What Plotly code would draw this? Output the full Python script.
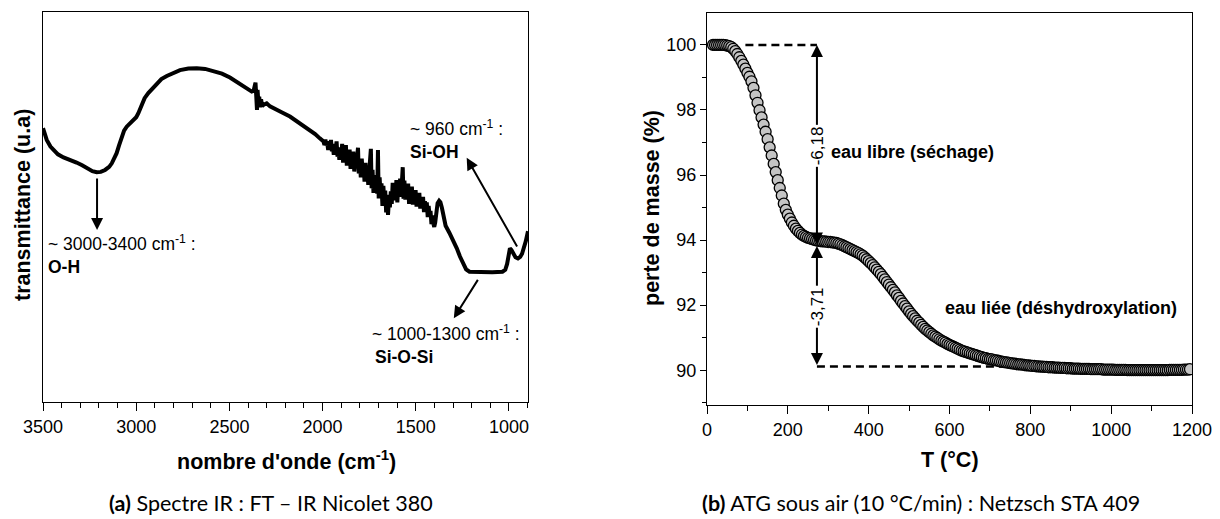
import plotly.graph_objects as go

# ---------------- data : IR spectrum (a) ----------------
wn_ir = [3500, 3480, 3460, 3445, 3420, 3390, 3355, 3320, 3290, 3265, 3235, 3212, 3190, 3167, 3145,
         3131, 3118, 3105, 3092, 3078, 3065, 3051, 3033, 3016, 3000, 2989, 2980, 2970, 2955, 2935,
         2910, 2890, 2865, 2836, 2800, 2765, 2720, 2675, 2630, 2586, 2540, 2497, 2460, 2425, 2400,
         2380, 2370, 2364, 2360, 2356, 2352, 2349, 2345, 2340, 2335, 2330, 2324, 2318, 2300, 2282,
         2264, 2220, 2175, 2121, 2068, 2040, 2015,
         1995, 1990, 1985, 1980, 1975, 1970, 1965, 1960, 1955, 1950, 1945, 1940, 1935, 1930, 1925,
         1920, 1915, 1910, 1905, 1900, 1895, 1890, 1885, 1880, 1875, 1870, 1865, 1860, 1855, 1850,
         1845, 1840, 1835, 1830, 1825, 1820, 1815, 1810, 1806, 1800, 1795, 1790, 1785, 1780, 1775,
         1770, 1765, 1760, 1755, 1750, 1745, 1741, 1737, 1732, 1727, 1722, 1717, 1712, 1707, 1703,
         1699, 1694, 1689, 1684, 1679, 1674, 1669, 1664, 1659, 1654, 1649, 1644, 1639, 1634, 1629,
         1624, 1619, 1614, 1609, 1604, 1599, 1594, 1589, 1584, 1579, 1574, 1570, 1566, 1561, 1556,
         1551, 1546, 1541, 1536, 1531, 1526, 1521, 1516, 1511, 1506, 1501, 1496, 1491, 1486, 1481,
         1476, 1471, 1466, 1461, 1456, 1451, 1446, 1441, 1436, 1431, 1426, 1421, 1416, 1411, 1406,
         1401, 1396, 1390, 1383, 1375, 1368, 1360, 1352, 1340, 1320, 1299, 1280, 1263, 1245, 1230,
         1212, 1150, 1090, 1035, 1020, 1010, 1002, 995, 987, 977, 965, 952, 940, 930, 920, 910, 898]
tr_ir = [70.2, 67.2, 65.5, 64.6, 63.5, 62.7, 62.1, 61.4, 60.7, 59.9, 59.2, 58.9, 59.0, 59.5, 60.3,
         61.2, 62.3, 63.8, 65.8, 68.0, 69.6, 70.6, 71.5, 72.3, 73.0, 74.0, 75.2, 76.6, 77.9, 79.2,
         80.6, 81.7, 82.8, 83.6, 84.5, 85.1, 85.5, 85.6, 85.4, 84.9, 84.2, 83.2, 82.1, 81.0, 80.2,
         79.6, 79.8, 81.2, 81.9, 78.5, 74.9, 80.0, 77.2, 78.3, 75.6, 77.6, 75.8, 76.2, 76.6, 75.8,
         75.3, 74.3, 73.2, 71.5, 69.7, 68.7, 67.6,
         66.8, 65.9, 67.3, 65.8, 66.4, 64.6, 66.9, 65.1, 67.2, 64.3, 65.6, 63.4, 66.2, 64.5, 66.8,
         62.9, 64.8, 62.1, 65.3, 63.0, 66.2, 61.4, 63.8, 62.2, 65.9, 60.6, 63.3, 61.9, 64.7, 59.8,
         62.6, 61.0, 64.2, 59.1, 61.7, 60.2, 63.6, 65.2, 58.6, 61.9, 57.6, 62.4, 59.0, 60.9, 56.5,
         61.3, 57.2, 59.8, 55.7, 60.6, 62.8, 64.9, 54.8, 59.5, 53.6, 58.2, 55.1, 57.9, 53.4, 64.6,
         52.2, 57.6, 53.0, 56.1, 50.3, 55.4, 51.6, 54.2, 48.6, 53.1, 48.0, 52.0, 49.9, 54.0, 50.8,
         56.2, 51.7, 55.0, 52.8, 56.9, 51.2, 55.6, 53.4, 57.3, 52.6, 58.8, 60.2, 52.1, 56.8, 51.9,
         55.1, 52.7, 56.0, 50.8, 54.4, 52.2, 55.2, 50.6, 53.9, 51.8, 54.3, 50.1, 53.2, 51.2, 53.6,
         49.6, 52.4, 50.5, 52.6, 48.7, 51.5, 49.1, 51.2, 47.4, 50.3, 47.8, 49.0, 45.6, 47.8, 45.8,
         44.9, 46.0, 49.0, 51.0, 51.6, 51.2, 49.8, 47.6, 45.2, 43.4, 41.5, 39.4, 37.3, 35.3, 34.0,
         33.4, 33.3, 33.3, 33.4, 33.9, 35.4, 38.0, 39.4, 39.0, 38.0, 37.1, 36.8, 37.2, 38.0, 39.5, 41.2, 43.8]
ir_ticks = [3500, 3000, 2500, 2000, 1500, 1000]

# ---------------- data : ATG (b) ----------------
T_atg = [15, 20, 25, 30, 35, 40, 45, 50, 55, 60, 65, 70, 75, 80, 85, 90, 95, 100, 105, 110,
         115, 120, 125, 130, 135, 140, 145, 150, 155, 160, 165, 170, 175, 180, 185, 190, 195, 200, 205, 210,
         215, 220, 225, 230, 235, 240, 245, 250, 255, 260, 265, 270, 275, 280, 285, 290, 295, 300, 305, 310,
         315, 320, 325, 330, 335, 340, 345, 350, 355, 360, 365, 370, 375, 380, 385, 390, 395, 400, 405, 410,
         415, 420, 425, 430, 435, 440, 445, 450, 455, 460, 465, 470, 475, 480, 485, 490, 495, 500, 505, 510,
         515, 520, 525, 530, 535, 540, 545, 550, 555, 560, 565, 570, 575, 580, 585, 590, 595, 600, 605, 610,
         615, 620, 625, 630, 635, 640, 645, 650, 655, 660, 665, 670, 675, 680, 685, 690, 695, 700, 705, 710,
         715, 720, 725, 730, 735, 740, 745, 750, 755, 760, 765, 770, 775, 780, 785, 790, 795, 800, 805, 810,
         815, 820, 825, 830, 835, 840, 845, 850, 855, 860, 865, 870, 875, 880, 885, 890, 895, 900, 905, 910,
         915, 920, 925, 930, 935, 940, 945, 950, 955, 960, 965, 970, 975, 980, 985, 990, 995, 1000, 1005, 1010,
         1015, 1020, 1025, 1030, 1035, 1040, 1045, 1050, 1055, 1060, 1065, 1070, 1075, 1080, 1085, 1090, 1095, 1100, 1105, 1110,
         1115, 1120, 1125, 1130, 1135, 1140, 1145, 1150, 1155, 1160, 1165, 1170, 1175, 1180, 1185, 1190, 1195]
mass_atg = [100.00, 100.00, 100.00, 100.00, 100.00, 100.00, 99.99, 99.98, 99.96, 99.93, 99.88, 99.81, 99.72, 99.62, 99.51, 99.39, 99.27, 99.14, 99.02, 98.88,
            98.68, 98.45, 98.22, 97.99, 97.77, 97.55, 97.33, 97.10, 96.85, 96.60, 96.34, 96.09, 95.84, 95.60, 95.37, 95.12, 94.93, 94.78, 94.66, 94.54,
            94.44, 94.35, 94.28, 94.22, 94.17, 94.13, 94.10, 94.07, 94.05, 94.03, 94.01, 93.99, 93.98, 93.97, 93.96, 93.96, 93.95, 93.94, 93.94, 93.93,
            93.92, 93.91, 93.89, 93.87, 93.84, 93.81, 93.78, 93.75, 93.72, 93.69, 93.66, 93.63, 93.60, 93.56, 93.52, 93.47, 93.41, 93.35, 93.29, 93.23,
            93.16, 93.09, 93.02, 92.95, 92.87, 92.79, 92.71, 92.63, 92.55, 92.47, 92.39, 92.30, 92.22, 92.13, 92.05, 91.97, 91.89, 91.81, 91.73, 91.66,
            91.59, 91.52, 91.46, 91.39, 91.33, 91.27, 91.22, 91.17, 91.12, 91.07, 91.03, 90.99, 90.95, 90.91, 90.88, 90.85, 90.81, 90.78, 90.75, 90.72,
            90.69, 90.66, 90.63, 90.60, 90.58, 90.56, 90.54, 90.52, 90.50, 90.48, 90.46, 90.44, 90.42, 90.40, 90.38, 90.37, 90.35, 90.34, 90.33, 90.31,
            90.30, 90.29, 90.27, 90.26, 90.25, 90.24, 90.23, 90.22, 90.21, 90.20, 90.19, 90.18, 90.18, 90.17, 90.16, 90.15, 90.15, 90.14, 90.13, 90.13,
            90.12, 90.12, 90.11, 90.11, 90.10, 90.10, 90.09, 90.09, 90.09, 90.08, 90.08, 90.08, 90.07, 90.07, 90.07, 90.06, 90.06, 90.06, 90.05, 90.05,
            90.05, 90.05, 90.04, 90.04, 90.04, 90.04, 90.04, 90.03, 90.03, 90.03, 90.03, 90.03, 90.03, 90.02, 90.02, 90.02, 90.02, 90.02, 90.02, 90.01,
            90.01, 90.01, 90.01, 90.01, 90.01, 90.00, 90.00, 90.00, 90.00, 90.00, 90.00, 90.00, 90.00, 90.00, 90.00, 90.00, 90.00, 90.00, 90.00, 90.00,
            90.00, 90.00, 90.00, 90.00, 90.00, 90.00, 90.01, 90.01, 90.01, 90.01, 90.01, 90.01, 90.01, 90.02, 90.02, 90.02, 90.03]
atg_xticks = [0, 200, 400, 600, 800, 1000, 1200]
atg_yticks = [90, 92, 94, 96, 98, 100]
loss_free = 6.18     # eau libre (séchage)
loss_bound = 3.71    # eau liée (déshydroxylation)
T_step = 272         # temperature where the steps are marked

assert len(wn_ir) == len(tr_ir)
assert len(T_atg) == len(mass_atg)

# ---------------- figure ----------------
# the page body has an 8px margin: the figure is sized so that it fills the 1220x519 window
OFF = 8
W, H = 1220 - OFF, 519 - OFF
ARIAL = "Arial, 'Liberation Sans', sans-serif"
CAP = "Lato, 'Noto Sans', sans-serif"


def px(x):
    return (x - OFF) / W


def py(y):
    return 1 - (y - OFF) / H


fig = go.Figure()

fig.add_trace(go.Scatter(x=wn_ir, y=tr_ir, mode="lines", xaxis="x", yaxis="y",
                         line=dict(color="black", width=4), showlegend=False,
                         hoverinfo="skip"))

m_after1 = 100 - loss_free
m_after2 = 100 - loss_free - loss_bound
dash = "8px,5px"
fig.add_trace(go.Scatter(x=[95, T_step], y=[100, 100], mode="lines", xaxis="x2", yaxis="y2",
                         line=dict(color="black", width=2.5, dash=dash), showlegend=False))
fig.add_trace(go.Scatter(x=[T_step, 800], y=[m_after2, m_after2], mode="lines", xaxis="x2", yaxis="y2",
                         line=dict(color="black", width=2.5, dash=dash), showlegend=False))
fig.add_trace(go.Scatter(x=T_atg, y=mass_atg, mode="markers", xaxis="x2", yaxis="y2",
                         marker=dict(symbol="circle", size=11, color="#c4c4c4",
                                     line=dict(color="black", width=1.3)),
                         showlegend=False))

axis_common = dict(showline=True, linecolor="black", linewidth=1.3, mirror=True,
                   showgrid=False, zeroline=False, automargin=False,
                   tickfont=dict(family=ARIAL, size=18, color="black"))

fig.update_layout(
    width=W, height=H,
    margin=dict(l=0, r=0, t=0, b=0, pad=0, autoexpand=False),
    paper_bgcolor="white", plot_bgcolor="white",
    xaxis=dict(domain=[px(43), px(528)], range=[3500, 898], anchor="y",
               tickvals=ir_ticks, ticks="outside", ticklen=8, tickwidth=1.3, tickcolor="black",
               minor=dict(dtick=100, tick0=0, ticks="outside", ticklen=5, tickwidth=1.3, tickcolor="black"),
               **axis_common),
    yaxis=dict(domain=[py(402), py(12)], range=[0, 100], anchor="x",
               showticklabels=False, ticks="", **axis_common),
    xaxis2=dict(domain=[px(707), px(1192)], range=[0, 1200], anchor="y2",
                tickvals=atg_xticks, ticks="outside", ticklen=8, tickwidth=1.3, tickcolor="black",
                minor=dict(dtick=100, tick0=0, ticks="outside", ticklen=5, tickwidth=1.3, tickcolor="black"),
                **axis_common),
    yaxis2=dict(domain=[py(405), py(13)], range=[88.93, 100.98], anchor="x2",
                tickvals=atg_yticks, ticks="outside", ticklen=6, tickwidth=1.3, tickcolor="black",
                minor=dict(dtick=1, tick0=0, ticks="outside", ticklen=4, tickwidth=1.3, tickcolor="black"),
                **axis_common),
)

ann = []


def text(x, y, s, size=17, bold=False, angle=0, xanchor="left", family=ARIAL, bg=None):
    d = dict(x=px(x), y=py(y), xref="paper", yref="paper", text=(f"<b>{s}</b>" if bold else s),
             showarrow=False, xanchor=xanchor, yanchor="middle", textangle=angle,
             font=dict(family=family, size=size, color="black"))
    if bg:
        d["bgcolor"] = bg
    ann.append(d)


def arrow(xr, yr, x, y, ax, ay, side="end", width=2):
    ann.append(dict(x=x, y=y, ax=ax, ay=ay, xref=xr, yref=yr, axref=xr, ayref=yr,
                    text="", showarrow=True, arrowhead=2, arrowsize=1.2, arrowwidth=width,
                    arrowcolor="black", arrowside=side, startarrowhead=2, startarrowsize=1.2))


# IR arrows
arrow("x", "y", 3210, 44.1, 3210, 57.7)
arrow("x", "y", 1227, 62.6, 952, 39.5)
arrow("x", "y", 1296, 21.5, 1162, 31.7)

# ATG arrows
arrow("x2", "y2", T_step, 100, T_step, m_after1, side="end+start")
arrow("x2", "y2", T_step, m_after1, T_step, m_after2, side="end+start")

# IR labels
text(46, 243, "~ 3000-3400 cm<sup>-1</sup> :", size=17.5)
text(46, 267, "O-H", size=17.5, bold=True)
text(408, 128, "~ 960 cm<sup>-1</sup> :", size=17.5)
text(408, 152, "Si-OH", size=17.5, bold=True)
text(370, 333, "~ 1000-1300 cm<sup>-1</sup> :", size=17.5)
text(373, 357, "Si-O-Si", size=17.5, bold=True)

# ATG labels
ann.append(dict(x=T_step, y=100 - loss_free / 2, xref="x2", yref="y2",
                text=f"-{loss_free:.2f}".replace(".", ","), showarrow=False, textangle=-90,
                bgcolor="white", font=dict(family=ARIAL, size=17, color="black")))
ann.append(dict(x=T_step, y=m_after1 - loss_bound / 2, xref="x2", yref="y2",
                text=f"-{loss_bound:.2f}".replace(".", ","), showarrow=False, textangle=-90,
                bgcolor="white", font=dict(family=ARIAL, size=17, color="black")))
text(829, 152, "eau libre (séchage)", size=18, bold=True)
text(943, 308, "eau liée (déshydroxylation)", size=18, bold=True)

# axis titles
text(23, 205, "transmittance (u.a)", size=21.5, bold=True, angle=-90, xanchor="center")
text(286, 460, "nombre d'onde (cm<sup>-1</sup>)", size=21.5, bold=True, xanchor="center")
text(652, 208, "perte de masse (%)", size=21.5, bold=True, angle=-90, xanchor="center")
text(950, 460, "T (°C)", size=21.5, bold=True, xanchor="center")

# captions
text(271, 503, "<b>(a)</b> Spectre IR : FT – IR Nicolet 380", size=21.5, xanchor="center", family=CAP)
text(921, 503, "<b>(b)</b> ATG sous air (10 °C/min) : Netzsch STA 409", size=21.5, xanchor="center", family=CAP)

fig.update_layout(annotations=ann)
fig.write_html("out.html")
